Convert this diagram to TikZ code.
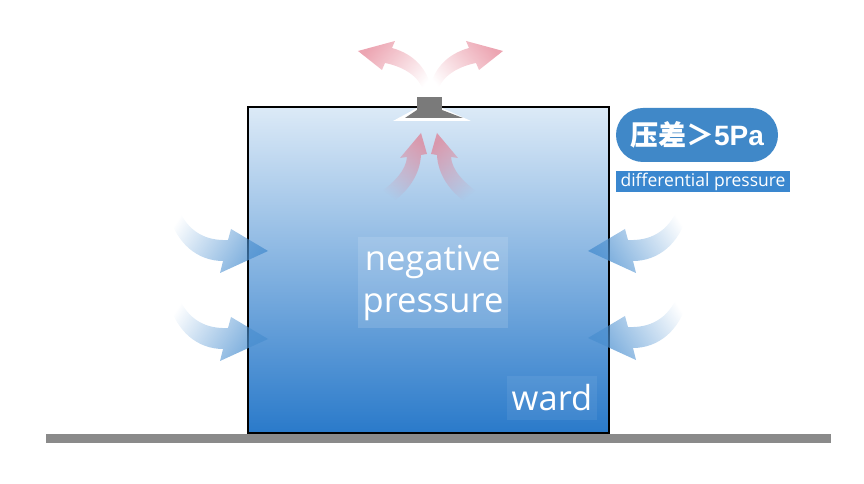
\documentclass[tikz,border=0pt]{standalone}
\usepackage{fontspec}
\setmainfont{Open Sans}
\newfontfamily\cjkfont{Noto Sans CJK SC}
\newfontfamily\arialfont{Liberation Sans}
\usetikzlibrary{fadings}
\definecolor{roomtop}{HTML}{DCEAF7}
\definecolor{roombot}{HTML}{2A7ACA}
\definecolor{groundgray}{HTML}{8A8A8A}
\definecolor{ventgray}{HTML}{7A7A7A}
\definecolor{pillblue}{HTML}{4088C8}
\definecolor{labelblue}{HTML}{3A87CF}
\definecolor{arrowblue}{HTML}{4A8FD0}
\definecolor{arrowpink}{HTML}{E27488}
\tikzfading[name=tailfade, left color=transparent!100, right color=transparent!0]
\tikzset{
  bluearrow/.style={fill=arrowblue, fill opacity=0.8, path fading=tailfade, fit fading=true},
  pinkarrow/.style={fill=arrowpink, fill opacity=0.65, path fading=tailfade, fit fading=true},
  whitetext/.style={text=white, inner sep=0pt, align=center},
}
\newcommand\bluearrowleft[2]{%
  \fill[bluearrow, fading angle=-23, shift={(#1,#2)}]
    (0,4) .. controls (10,-20) and (28,-29) .. (50,-28) -- (53,-17) -- (90,-39)
    -- (42,-61) -- (45,-49) .. controls (20,-49) and (-2,-32) .. (-10,0) -- cycle;}
\newcommand\bluearrowright[2]{%
  \fill[bluearrow, fading angle=203, shift={(#1,#2)}]
    (0,4) .. controls (-10,-20) and (-28,-29) .. (-50,-28) -- (-53,-17) -- (-90,-39)
    -- (-42,-61) -- (-45,-49) .. controls (-20,-49) and (2,-32) .. (10,0) -- cycle;}
\begin{document}
\begin{tikzpicture}[x=1pt,y=1pt]
\useasboundingbox (0,0) rectangle (864,484);
% room
\node[draw=black, line width=1.8pt, inner sep=0pt, minimum width=361pt, minimum height=326pt,
      top color=roomtop, bottom color=roombot] (room) at (428.5,214) {};
% ground
\fill[groundgray] (46,41) rectangle (831,50);
% blue inflow arrows
\bluearrowleft{178}{272}
\bluearrowleft{178}{184}
\bluearrowright{678}{272}
\bluearrowright{678}{185}
% pink exhaust arrows (outside)
\fill[pinkarrow, fading angle=148]
  (432,389) .. controls (430,414) and (414,430) .. (392,436) -- (395,443) -- (358,433)
  -- (382,414) -- (385,421) .. controls (405,417) and (422,406) .. (424,389) -- cycle;
\fill[pinkarrow, fading angle=32]
  (429,389) .. controls (431,414) and (447,430) .. (469,436) -- (466,443) -- (503,433)
  -- (479,414) -- (476,421) .. controls (456,417) and (439,406) .. (437,389) -- cycle;
% pink arrows inside
\fill[pinkarrow, fading angle=61]
  (378,290) .. controls (395,302) and (406,314) .. (407,327) -- (400,326) -- (421,351)
  -- (427,330) -- (421,329) .. controls (420,310) and (409,294) .. (394,283) -- cycle;
\fill[pinkarrow, fading angle=119]
  (480,290) .. controls (463,302) and (452,314) .. (451,327) -- (458,326) -- (437,351)
  -- (431,330) -- (437,329) .. controls (438,310) and (449,294) .. (464,283) -- cycle;
% vent
\fill[white] (393,363) -- (471,363) -- (442,376) -- (417,376) -- cycle;
\fill[ventgray] (405,366) -- (463,366) -- (442,374) -- (417,374) -- cycle;
\fill[ventgray] (417,373) rectangle (442,387);
% texts
\node[whitetext, fill=white, fill opacity=0.13, text opacity=1, minimum width=150pt, minimum height=91pt,
      font=\fontsize{34.5}{42}\selectfont] (neg) at (433,201.5) {negative\\pressure};
\node[whitetext, fill=white, fill opacity=0.07, text opacity=1, minimum width=90pt, minimum height=44pt,
      font=\fontsize{34.5}{38}\selectfont] (ward) at (552,86) {ward};
\node[whitetext, fill=pillblue, rounded corners=27pt, minimum width=162pt, minimum height=54pt,
      font=\fontsize{28}{30}\selectfont\bfseries] (pill) at (697,349)
      {{\cjkfont\bfseries 压差＞}{\arialfont\bfseries 5Pa}};
\node[whitetext, fill=labelblue, minimum width=174pt, minimum height=21pt,
      font=\fontsize{17.5}{18}\selectfont] (diff) at (703,302.5) {differential pressure};
\end{tikzpicture}
\end{document}
